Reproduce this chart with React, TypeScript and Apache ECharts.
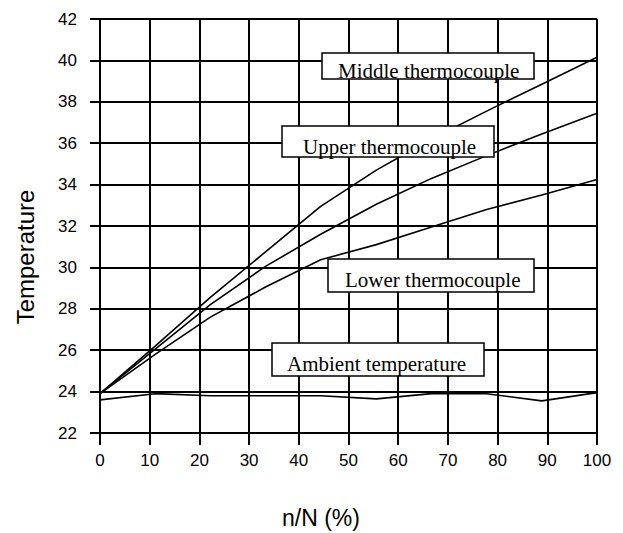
import React, { useEffect, useRef } from "react";
import * as echarts from "echarts";

const xPos = [0, 11.1, 22.2, 33.3, 44.4, 55.6, 66.7, 77.8, 88.9, 100];
const middleTC = [23.9, 26.2, 28.55, 30.75, 32.95, 34.7, 36.2, 37.55, 38.85, 40.15];
const upperTC = [23.9, 26.05, 28.2, 30.05, 31.6, 33.05, 34.3, 35.4, 36.45, 37.45];
const lowerTC = [23.9, 25.8, 27.6, 29.05, 30.37, 31.1, 31.95, 32.8, 33.5, 34.25];
const ambientT = [23.6, 23.9, 23.8, 23.8, 23.8, 23.65, 23.9, 23.9, 23.55, 23.95];

const seriesNames = ["Middle thermocouple", "Upper thermocouple", "Lower thermocouple", "Ambient temperature"];
const seriesValues = [middleTC, upperTC, lowerTC, ambientT];

const xAxisTitle = "n/N (%)";
const yAxisTitle = "Temperature";

const boxes = [
  { text: "Middle thermocouple", x: 322, y: 53, w: 212, h: 26, tx: 338, ty: 70.5 },
  { text: "Upper thermocouple", x: 282, y: 126, w: 212, h: 31, tx: 303, ty: 146.5 },
  { text: "Lower thermocouple", x: 328, y: 259, w: 206, h: 33, tx: 345, ty: 279.5 },
  { text: "Ambient temperature", x: 272, y: 343, w: 212, h: 33, tx: 287, ty: 363.5 },
];

export default function App() {
  const ref = useRef<HTMLDivElement>(null);
  useEffect(() => {
    if (!ref.current) return;
    const chart = echarts.init(ref.current, undefined, { renderer: "svg" });
    const sans = "Liberation Sans";
    const serif = "Liberation Serif";
    const graphics: any[] = [];
    boxes.forEach((b) => {
      graphics.push({
        type: "rect",
        shape: { x: b.x, y: b.y, width: b.w, height: b.h },
        style: { fill: "#fff", stroke: "#000", lineWidth: 1.5 },
        z: 100,
      });
      graphics.push({
        type: "text",
        x: b.tx,
        y: b.ty,
        style: {
          text: b.text,
          font: `21px "${serif}"`,
          fill: "#000",
          textAlign: "left",
          textVerticalAlign: "middle",
        },
        z: 101,
      });
    });
    graphics.push({
      type: "text",
      x: 25,
      y: 257,
      rotation: Math.PI / 2,
      style: {
        text: yAxisTitle,
        font: `24px "${sans}"`,
        fill: "#000",
        textAlign: "center",
        textVerticalAlign: "middle",
      },
    });
    graphics.push({
      type: "text",
      x: 321,
      y: 518,
      style: {
        text: xAxisTitle,
        font: `23px "${sans}"`,
        fill: "#000",
        textAlign: "center",
        textVerticalAlign: "middle",
      },
    });

    chart.setOption({
      animation: false,
      backgroundColor: "#fff",
      grid: { left: 100, right: 26, top: 19, bottom: 100, containLabel: false },
      xAxis: {
        type: "value",
        min: 0,
        max: 100,
        interval: 10,
        axisLine: { show: true, lineStyle: { color: "#000", width: 2 } },
        axisTick: { show: true, length: 12, lineStyle: { color: "#000", width: 2 } },
        axisLabel: { color: "#000", fontSize: 17, fontFamily: sans, margin: 19 },
        splitLine: { show: true, lineStyle: { color: "#000", width: 2 } },
      },
      yAxis: {
        type: "value",
        min: 22,
        max: 42,
        interval: 2,
        axisLine: { show: true, lineStyle: { color: "#000", width: 2 } },
        axisTick: { show: true, length: 10, lineStyle: { color: "#000", width: 2 } },
        axisLabel: { color: "#000", fontSize: 17, fontFamily: sans, margin: 23 },
        splitLine: { show: true, lineStyle: { color: "#000", width: 2 } },
      },
      series: seriesNames.map((name, i) => ({
        name,
        type: "line",
        data: xPos.map((x, j) => [x, seriesValues[i][j]]),
        symbol: "none",
        lineStyle: { color: "#000", width: 1.6 },
        z: 5,
      })),
      graphic: graphics,
    });
    return () => chart.dispose();
  }, []);
  return (
    <div
      ref={ref}
      style={{ position: "fixed", left: 0, top: 0, width: 623, height: 533, background: "#fff" }}
    />
  );
}
